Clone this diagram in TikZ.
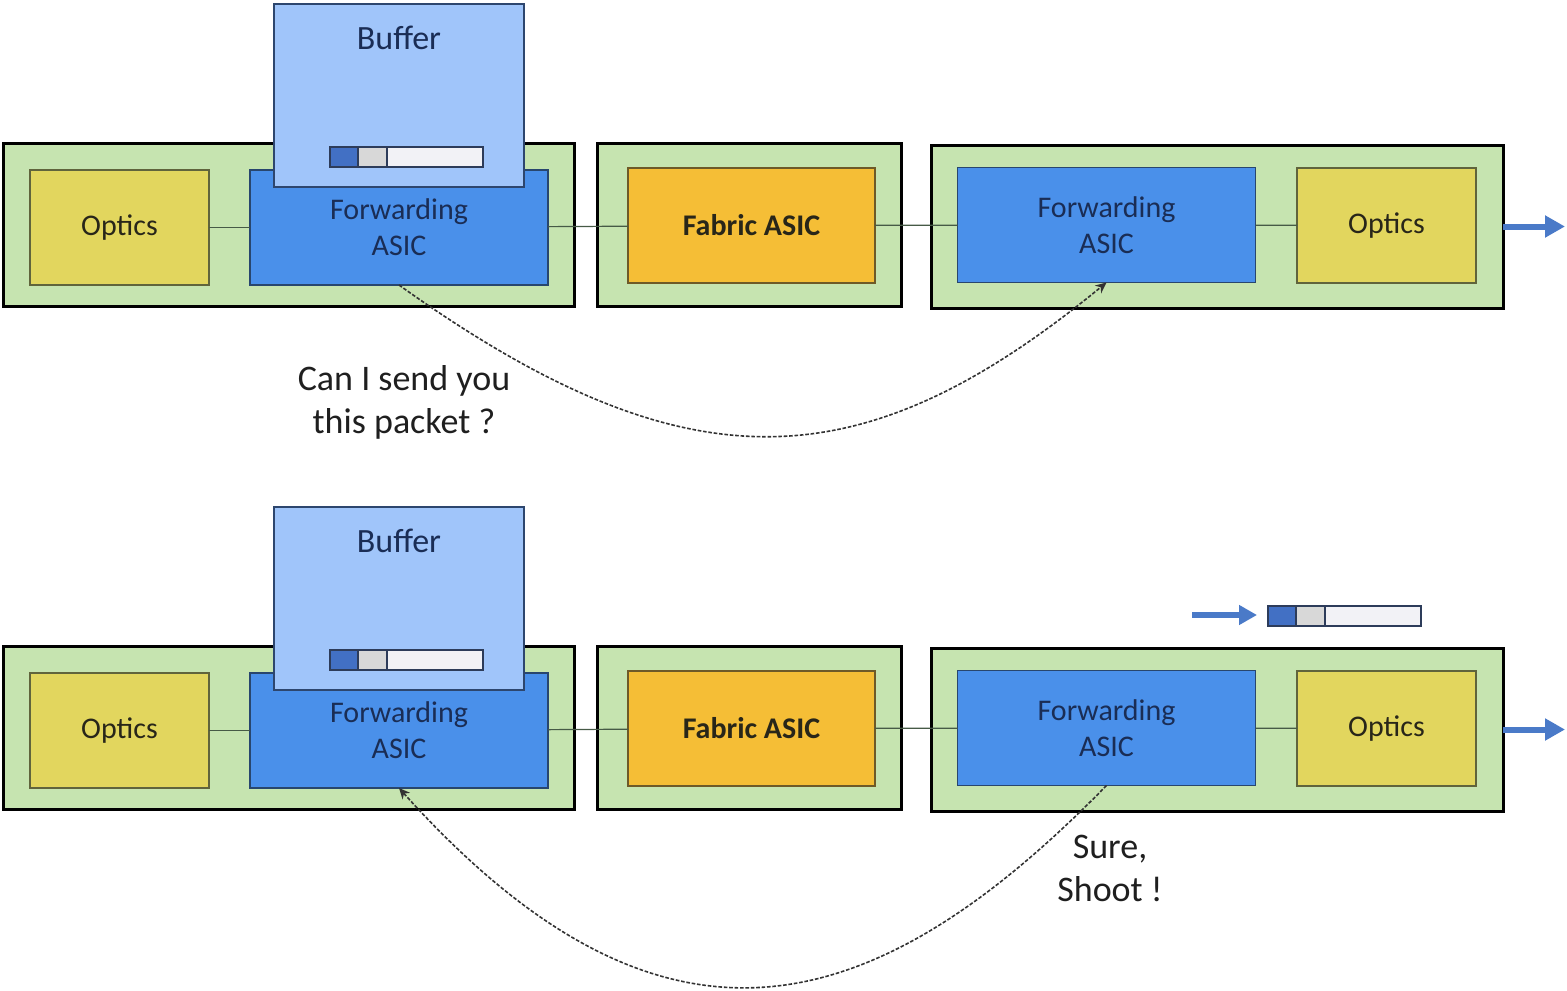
\documentclass[tikz,border=0pt]{standalone}
\usepackage{fontspec}
\setmainfont{Carlito}
\usetikzlibrary{arrows.meta}

\definecolor{cardgreen}{RGB}{198,228,176}
\definecolor{opticsyellow}{RGB}{226,214,94}
\definecolor{opticsedge}{RGB}{96,100,60}
\definecolor{fwdblue}{RGB}{74,144,234}
\definecolor{fwdedge}{RGB}{40,70,110}
\definecolor{fabricorange}{RGB}{245,190,54}
\definecolor{fabricedge}{RGB}{110,90,40}
\definecolor{buflight}{RGB}{160,197,250}
\definecolor{bufedge}{RGB}{45,70,110}
\definecolor{navytext}{RGB}{26,45,85}
\definecolor{darktext}{RGB}{40,38,25}
\definecolor{bardark}{RGB}{66,112,196}
\definecolor{barmid}{RGB}{216,216,216}
\definecolor{barlight}{RGB}{242,242,246}
\definecolor{baredge}{RGB}{45,60,90}
\definecolor{arrowblue}{RGB}{74,122,200}
\definecolor{linkgray}{RGB}{70,90,70}

% packet queue bar: x, y of its top-left corner
\newcommand\packetbar[2]{%
  \fill[bardark]  (#1,#2) rectangle ++(28,20);
  \fill[barmid]   (#1+28,#2) rectangle ++(29,20);
  \fill[barlight] (#1+57,#2) rectangle ++(96,20);
  \draw[baredge, line width=0.6pt] (#1,#2) rectangle ++(153,20);
  \draw[baredge, line width=0.6pt] (#1+28,#2) -- ++(0,20);
  \draw[baredge, line width=0.6pt] (#1+57,#2) -- ++(0,20);
}

% one line card / fabric / line card chain
\newcommand\switchrow{%
  \node[card, minimum width=285.5pt] (g1) at (288.5,224.5) {};
  \node[optics] (o1) at (119.5,227.5) {Optics};
  \node[fwd] (f1) at (399,227.5) {Forwarding\\ASIC};
  \node[card, minimum width=152pt] (g2) at (749,224.5) {};
  \node[fabric] (fab) at (751.5,225.5) {Fabric ASIC};
  \node[card, minimum width=286pt] (g3) at (1217,226.5) {};
  \node[fwd] (f2) at (1106.5,225) {Forwarding\\ASIC};
  \node[optics] (o2) at (1386.5,225.5) {Optics};
  \draw[link] (o1) -- (f1);
  \draw[link] (f1) -- (fab);
  \draw[link] (fab) -- (f2);
  \draw[link] (f2) -- (o2);
  \coordinate (out) at (1565,226.5);
  \draw[egress] (g3.east) -- (out);
  \node[buffer] (buf) at (399,95.5) {};
  \node[buftitle] (buflabel) at (399,38) {Buffer};
  \packetbar{330}{147}
}

\begin{document}
\begin{tikzpicture}[x=0.5pt, y=-0.5pt,
  card/.style={draw=black, line width=1.5pt, fill=cardgreen, minimum height=81.5pt,
    inner sep=0pt, outer sep=0pt},
  optics/.style={draw=opticsedge, line width=0.7pt, fill=opticsyellow,
    minimum width=89.5pt, minimum height=57.5pt, inner sep=0pt, outer sep=0pt,
    font=\fontsize{15}{18}\selectfont, text=darktext},
  fwd/.style={draw=fwdedge, line width=0.7pt, fill=fwdblue, align=center,
    minimum width=149pt, minimum height=57.5pt, inner sep=0pt, outer sep=0pt,
    font=\fontsize{15}{18}\selectfont, text=navytext},
  fabric/.style={draw=fabricedge, line width=0.7pt, fill=fabricorange,
    minimum width=123.5pt, minimum height=57.5pt, inner sep=0pt, outer sep=0pt,
    font=\fontsize{15}{18}\selectfont\bfseries, text=darktext},
  buffer/.style={draw=bufedge, line width=0.8pt, fill=buflight,
    minimum width=125pt, minimum height=91.5pt, inner sep=0pt, outer sep=0pt},
  buftitle/.style={font=\fontsize{17}{20}\selectfont, text=navytext, inner sep=0pt},
  link/.style={draw=linkgray, line width=0.6pt},
  egress/.style={draw=arrowblue, line width=3pt, -{Triangle[length=10pt,width=10.5pt]}},
  handshake/.style={draw=black!80, line width=0.8pt, dash pattern=on 1.8pt off 0.9pt,
    -{Stealth[length=5.5pt,width=5pt]}},
  say/.style={align=center, font=\fontsize{18}{21.5}\selectfont, text=black!88, inner sep=0pt}
]
\useasboundingbox (0,0) rectangle (1567,990);

% request phase
\begin{scope}[name prefix=top-]
  \switchrow
\end{scope}

% grant phase
\begin{scope}[shift={(0,503)}, name prefix=bot-]
  \switchrow
  \coordinate (inA) at (1192,112);
  \coordinate (inB) at (1257,112);
  \draw[egress, line width=2.6pt, -{Triangle[length=9pt,width=9.5pt]}] (inA) -- (inB);
  \packetbar{1268}{103}
\end{scope}

% request from ingress to egress
\draw[handshake] (top-f1.south) .. controls (689,492) and (863,482) .. (top-f2.south);
\node[say] (ask) at (404,402) {Can I send you\\this packet ?};

% grant from egress back to ingress
\draw[handshake] (bot-f2.south) .. controls (874,1023) and (664,1083) .. (bot-f1.south);
\node[say] (grant) at (1110,868) {Sure,\\Shoot !};
\end{tikzpicture}
\end{document}
